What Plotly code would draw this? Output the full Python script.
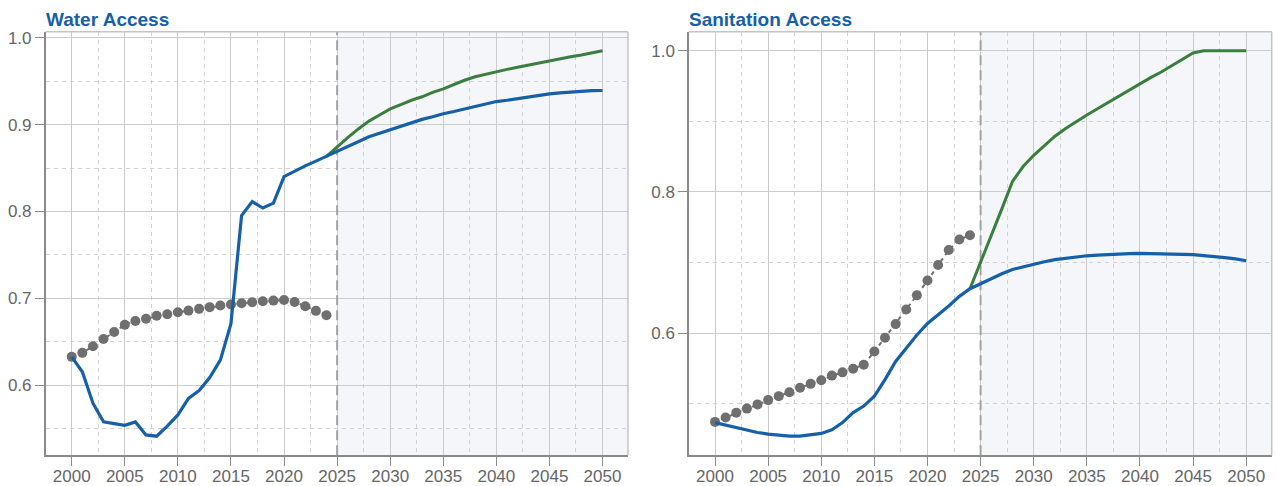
import plotly.graph_objects as go

# ---------------- data ----------------
years_obs = list(range(2000, 2025))
years_proj = list(range(2024, 2051))
years_base = list(range(2000, 2051))

# Water access
water_obs = [0.6328, 0.6374, 0.645, 0.6533, 0.6613, 0.6697, 0.674, 0.6766, 0.68, 0.6819,
             0.6842, 0.686, 0.688, 0.690, 0.6918, 0.693, 0.6945, 0.6956, 0.6967, 0.6975,
             0.6983, 0.696, 0.691, 0.6857, 0.6807]
water_base = [0.6328, 0.6156, 0.5795, 0.558, 0.556, 0.554, 0.558, 0.543, 0.5415, 0.553,
              0.566, 0.585, 0.594, 0.609, 0.629, 0.671, 0.7953, 0.8115, 0.804, 0.8097,
              0.8402, 0.8465, 0.8525, 0.858, 0.8635, 0.8695,
              0.875, 0.881, 0.886, 0.890, 0.894, 0.898, 0.902, 0.906, 0.909, 0.9125,
              0.915, 0.918, 0.9205, 0.9235, 0.9265, 0.928, 0.930, 0.932, 0.934, 0.9353,
              0.9365, 0.9375, 0.9385, 0.939, 0.9392]
water_target = [0.8635, 0.8745, 0.885, 0.895, 0.904, 0.911, 0.918, 0.923, 0.928, 0.932,
                0.937, 0.941, 0.946, 0.951, 0.955, 0.958, 0.961, 0.9635, 0.966, 0.9685,
                0.971, 0.9735, 0.976, 0.978, 0.980, 0.9825, 0.985]

# Sanitation access
san_obs = [0.4740, 0.4801, 0.4871, 0.4928, 0.4988, 0.5049, 0.5105, 0.5161, 0.5223, 0.5279,
           0.533, 0.5396, 0.5442, 0.5494, 0.555, 0.5737, 0.5934, 0.6126, 0.6333, 0.6534,
           0.6744, 0.6965, 0.7176, 0.7325, 0.7387]
san_base = [0.473, 0.4693, 0.4655, 0.4623, 0.459, 0.4567, 0.4548, 0.4538, 0.4538, 0.4552,
            0.4576, 0.4627, 0.473, 0.4871, 0.4964, 0.5105, 0.534, 0.5597, 0.5785, 0.5972,
            0.6136, 0.6253, 0.6383, 0.652, 0.6628, 0.6698,
            0.677, 0.684, 0.690, 0.694, 0.698, 0.701, 0.704, 0.706, 0.708, 0.7095,
            0.7105, 0.7115, 0.712, 0.7125, 0.7128, 0.7127, 0.7125, 0.712, 0.7115, 0.711,
            0.710, 0.7085, 0.707, 0.705, 0.7025]
san_target = [0.6628, 0.700, 0.738, 0.776, 0.815, 0.836, 0.852, 0.866, 0.879, 0.890,
              0.900, 0.909, 0.918, 0.927, 0.936, 0.944, 0.953, 0.962, 0.970, 0.979,
              0.988, 0.997, 1.0, 1.0, 1.0, 1.0, 1.0]

panel_titles = ["Water Access", "Sanitation Access"]
x_tickvals = [2000, 2005, 2010, 2015, 2020, 2025, 2030, 2035, 2040, 2045, 2050]
projection_start = 2025
water_yrange = [0.5196, 1.0068]
san_yrange = [0.4267, 1.0271]

# ---------------- style ----------------
BLUE = "#1660aa"
GREEN = "#3b7f3f"
GRAY = "#6f6f6f"
FONT = "Liberation Sans, Arial, sans-serif"

W, H = 1277, 486
def px_x(p): return p / W
def px_y(p): return (H - p) / H

dom_x1 = [px_x(45.7), px_x(628)]
dom_x2 = [px_x(689), px_x(1271.7)]
dom_y = [px_y(456), px_y(29)]
x_range = [1997.55, 2052.4]

fig = go.Figure()

def add_panel(xa, ya, obs, base, target, yrange):
    # projection start marker line (drawn first, above grid, below data)
    fig.add_trace(go.Scatter(x=[projection_start, projection_start], y=yrange, mode="lines",
                             line=dict(color="#a3a3a3", width=2, dash="10px,5px"),
                             xaxis=xa, yaxis=ya, showlegend=False, hoverinfo="skip"))
    fig.add_trace(go.Scatter(x=years_obs, y=obs, mode="lines+markers",
                             line=dict(color=GRAY, width=2, dash="4px,4px"),
                             marker=dict(color=GRAY, size=10),
                             xaxis=xa, yaxis=ya, showlegend=False, hoverinfo="skip"))
    fig.add_trace(go.Scatter(x=years_proj, y=target, mode="lines",
                             line=dict(color=GREEN, width=3),
                             xaxis=xa, yaxis=ya, showlegend=False))
    fig.add_trace(go.Scatter(x=years_base, y=base, mode="lines",
                             line=dict(color=BLUE, width=3.2),
                             xaxis=xa, yaxis=ya, showlegend=False))

add_panel("x", "y", water_obs, water_base, water_target, water_yrange)
add_panel("x2", "y2", san_obs, san_base, san_target, san_yrange)

common_x = dict(range=x_range, tickvals=x_tickvals, ticks="outside", ticklen=9,
                tickcolor="#8a8a8a", tickwidth=1.3, ticklabelstandoff=-4,
                showline=True, linecolor="#8a8a8a", linewidth=1.5,
                showgrid=True, gridcolor="#cccccc", gridwidth=1.3,
                minor=dict(dtick=2.5, tick0=2000, showgrid=True, gridcolor="#d2d2d2",
                           griddash="4px,4px", gridwidth=1, ticks=""),
                tickfont=dict(family=FONT, size=17, color="#666666"),
                zeroline=False, fixedrange=True)
common_y = dict(ticks="outside", ticklen=9, tickcolor="#8a8a8a", tickwidth=1.3,
                showline=True, linecolor="#8a8a8a", linewidth=1.5,
                showgrid=True, gridcolor="#cccccc", gridwidth=1.3,
                tickformat=".1f", tickfont=dict(family=FONT, size=17, color="#666666"),
                zeroline=False, fixedrange=True)

fig.update_layout(
    width=W, height=H,
    margin=dict(l=0, r=0, t=0, b=0),
    paper_bgcolor="white", plot_bgcolor="white",
    font=dict(family=FONT),
    xaxis=dict(domain=dom_x1, anchor="y", **common_x),
    xaxis2=dict(domain=dom_x2, anchor="y2", **common_x),
    yaxis=dict(domain=dom_y, anchor="x", range=water_yrange, tick0=0, dtick=0.1,
               minor=dict(dtick=0.05, tick0=0, showgrid=True, gridcolor="#d2d2d2",
                          griddash="4px,4px", gridwidth=1, ticks=""),
               **common_y),
    yaxis2=dict(domain=dom_y, anchor="x2", range=san_yrange, tick0=0, dtick=0.2,
                minor=dict(dtick=0.1, tick0=0, showgrid=True, gridcolor="#d2d2d2",
                           griddash="4px,4px", gridwidth=1, ticks=""),
                **common_y),
)

shapes = []
for xa, ya in [("x", "y"), ("x2", "y2")]:
    shapes.append(dict(type="rect", xref=xa, yref=f"{ya} domain", x0=projection_start,
                       x1=x_range[1], y0=0, y1=1, fillcolor="#f4f6f9",
                       line=dict(width=0), layer="below"))
    shapes.append(dict(type="line", xref=f"{xa} domain", yref=f"{ya} domain", x0=0, x1=1,
                       y0=1, y1=1, line=dict(color="#c4c4c4", width=1.5), layer="above"))
    shapes.append(dict(type="line", xref=f"{xa} domain", yref=f"{ya} domain", x0=1, x1=1,
                       y0=0, y1=1, line=dict(color="#c4c4c4", width=1.5), layer="above"))
fig.update_layout(shapes=shapes)

for title, dom in zip(panel_titles, [dom_x1, dom_x2]):
    fig.add_annotation(text=f"<b>{title}</b>", xref="paper", yref="paper",
                       x=dom[0] - px_x(2), y=px_y(17), xanchor="left", yanchor="middle",
                       showarrow=False, font=dict(family=FONT, size=19, color=BLUE))

fig.write_html("out.html")
